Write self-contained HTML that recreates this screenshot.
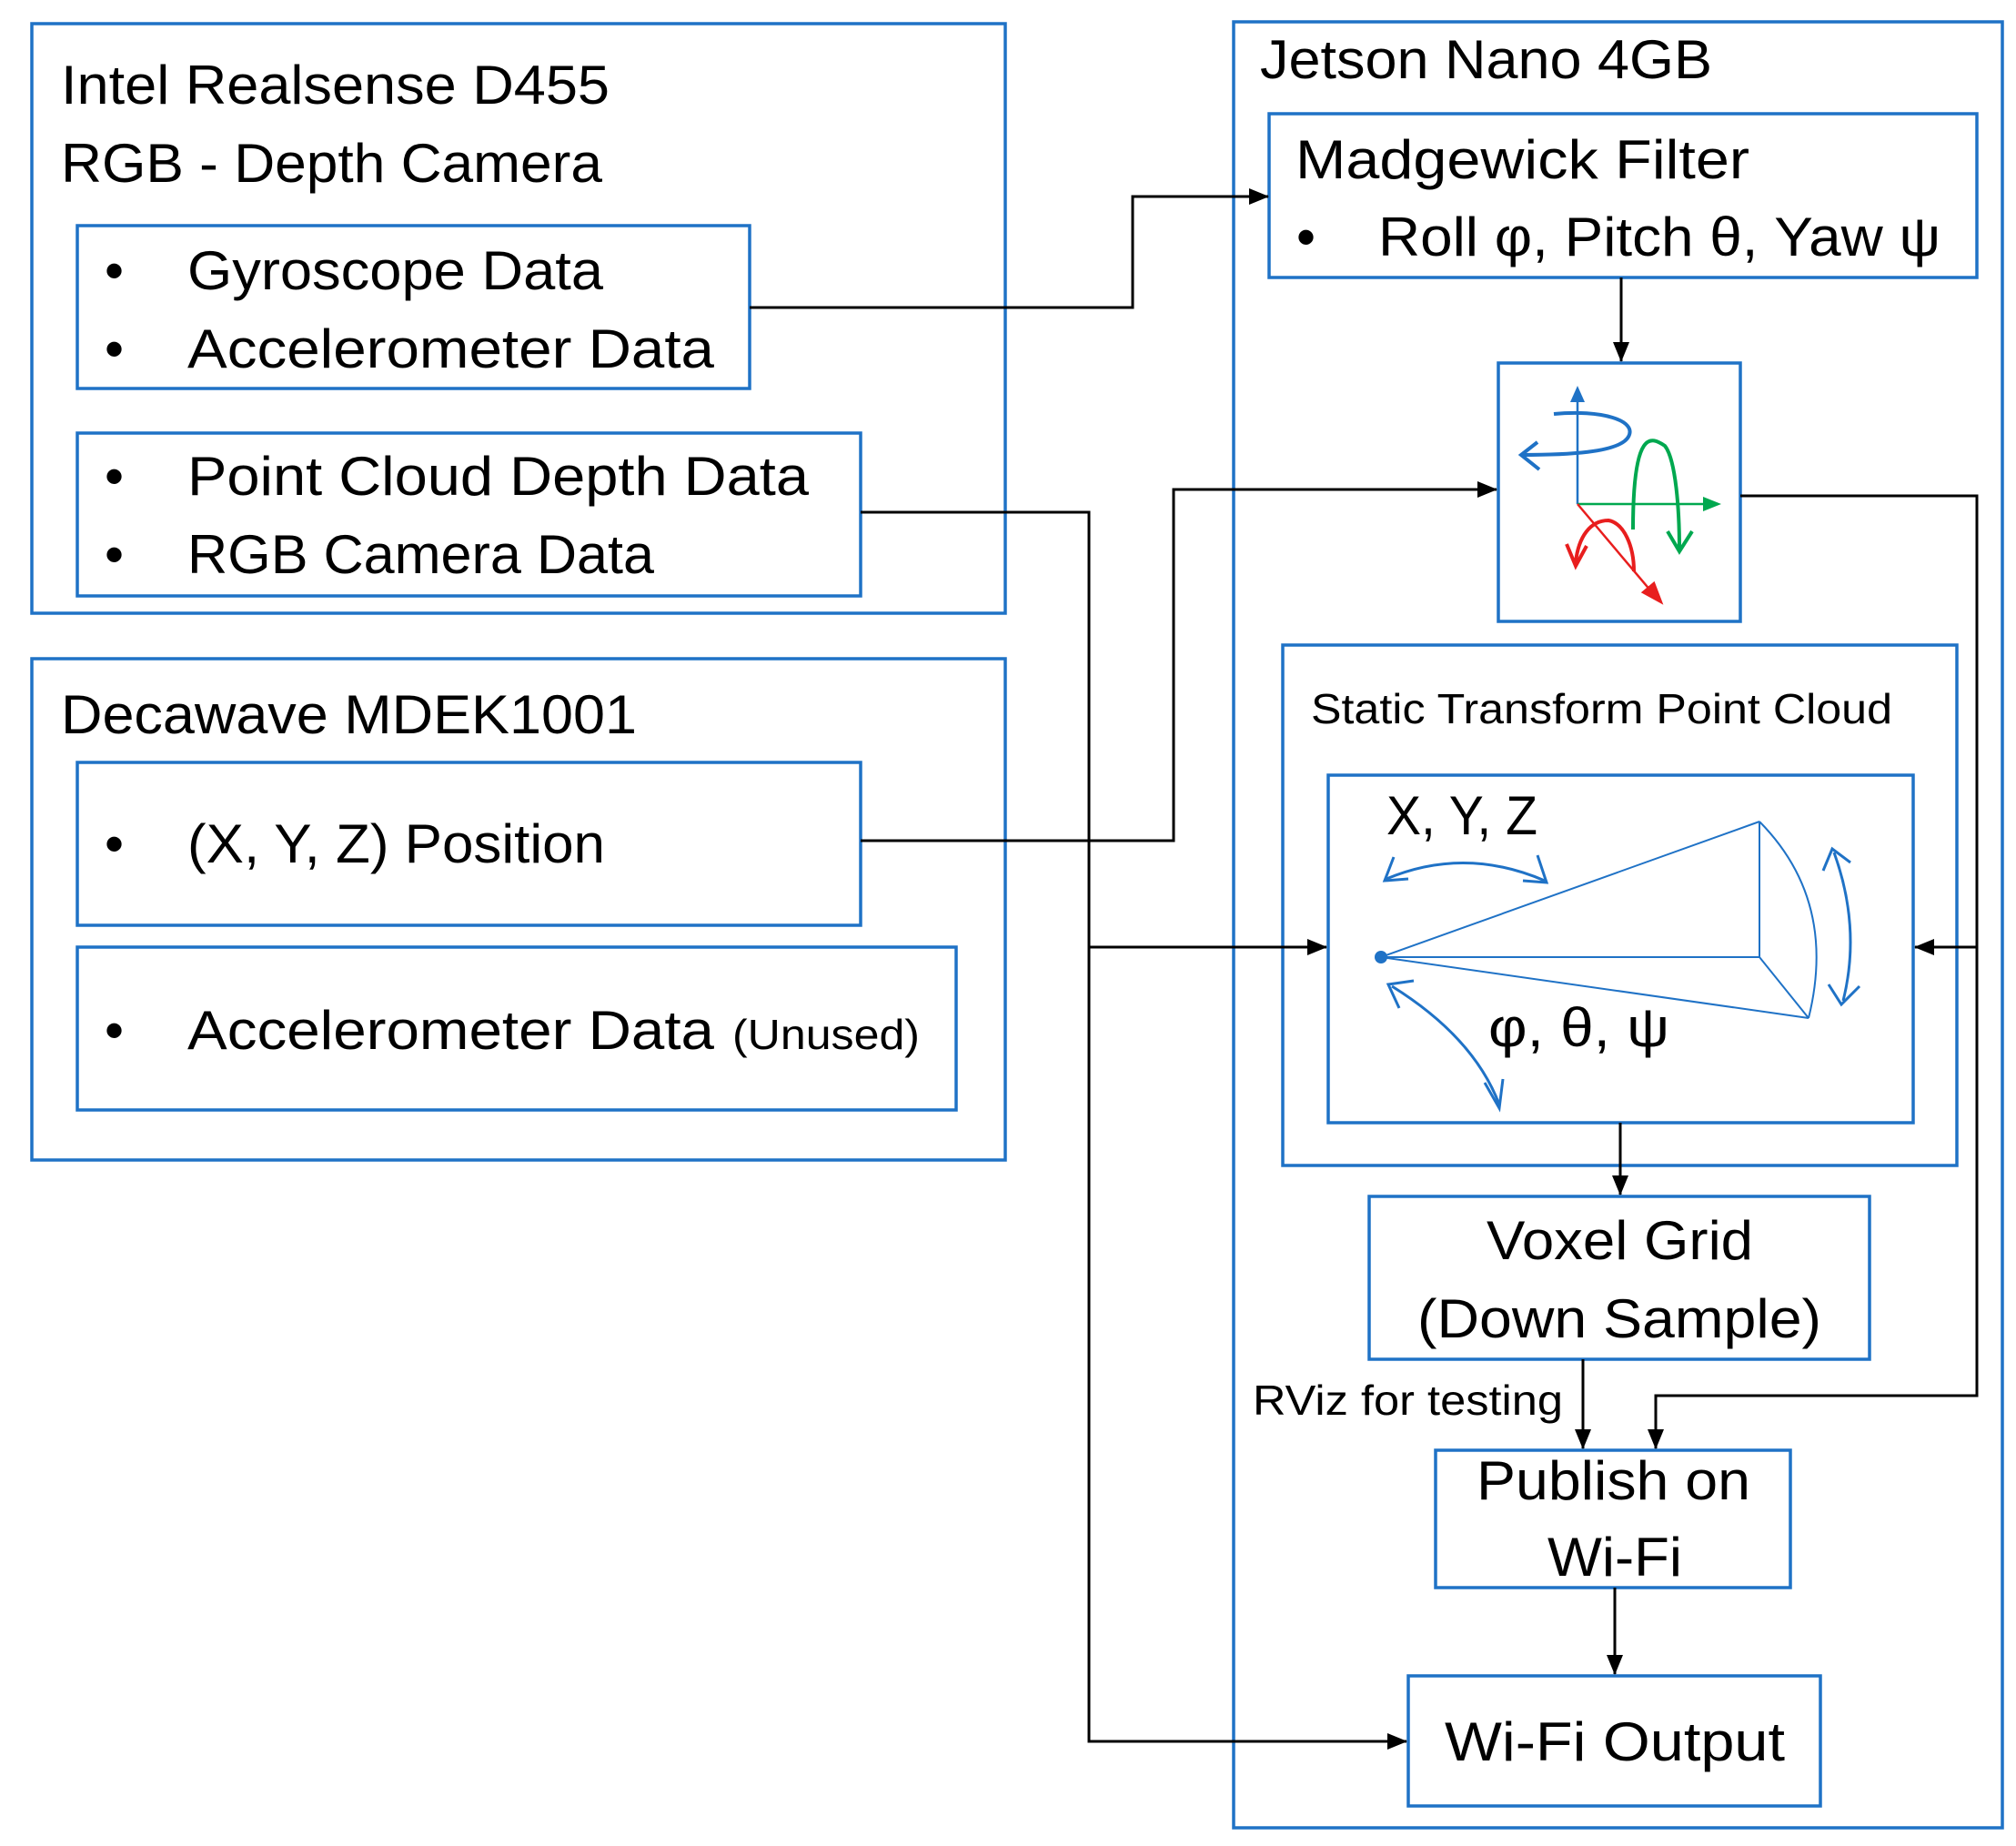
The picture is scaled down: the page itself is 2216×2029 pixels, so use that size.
<!DOCTYPE html>
<html><head><meta charset="utf-8"><style>
html,body{margin:0;padding:0;background:#fff;}
svg{display:block;}
text{font-family:"Liberation Sans",sans-serif;fill:#000;}
</style></head><body>
<svg width="2216" height="2029" viewBox="0 0 2216 2029" xmlns="http://www.w3.org/2000/svg">
<defs>
<marker id="ah" markerWidth="22" markerHeight="18" refX="21" refY="9" orient="auto" markerUnits="userSpaceOnUse" viewBox="0 0 22 18"><path d="M0,0 L22,9 L0,18 z" fill="#000"/></marker>
</defs>
<rect width="2216" height="2029" fill="#fff"/>
<g fill="none" stroke="#1f72c6" stroke-width="3.5">
<rect x="35" y="26" width="1070" height="648"/>
<rect x="85" y="248" width="739" height="179"/>
<rect x="85" y="476" width="861" height="179"/>
<rect x="35" y="724" width="1070" height="551"/>
<rect x="85" y="838" width="861" height="179"/>
<rect x="85" y="1041" width="966" height="179"/>
<rect x="1356" y="24" width="845" height="1985"/>
<rect x="1395" y="125" width="778" height="180"/>
<rect x="1647" y="399" width="266" height="284"/>
<rect x="1410" y="709" width="741" height="572"/>
<rect x="1460" y="852" width="643" height="382"/>
<rect x="1505" y="1315" width="550" height="179"/>
<rect x="1578" y="1594" width="390" height="151"/>
<rect x="1548" y="1842" width="453" height="143"/>
</g>
<g font-size="60">
<text x="67" y="114" textLength="603" lengthAdjust="spacingAndGlyphs">Intel Realsense D455</text>
<text x="67" y="200" textLength="595" lengthAdjust="spacingAndGlyphs">RGB - Depth Camera</text>
<text x="115" y="318">•</text><text x="206" y="318" textLength="457" lengthAdjust="spacingAndGlyphs">Gyroscope Data</text>
<text x="115" y="404">•</text><text x="206" y="404" textLength="579" lengthAdjust="spacingAndGlyphs">Accelerometer Data</text>
<text x="115" y="544">•</text><text x="206" y="544" textLength="683" lengthAdjust="spacingAndGlyphs">Point Cloud Depth Data</text>
<text x="115" y="630">•</text><text x="206" y="630" textLength="513" lengthAdjust="spacingAndGlyphs">RGB Camera Data</text>
<text x="67" y="806" textLength="633" lengthAdjust="spacingAndGlyphs">Decawave MDEK1001</text>
<text x="115" y="948">•</text><text x="206" y="948" textLength="459" lengthAdjust="spacingAndGlyphs">(X, Y, Z) Position</text>
<text x="115" y="1153">•</text><text x="206" y="1153" textLength="579" lengthAdjust="spacingAndGlyphs">Accelerometer Data</text>
<text x="805" y="1153" font-size="46" textLength="206" lengthAdjust="spacingAndGlyphs">(Unused)</text>
<text x="1385" y="86" textLength="497" lengthAdjust="spacingAndGlyphs">Jetson Nano 4GB</text>
<text x="1424" y="196" textLength="499" lengthAdjust="spacingAndGlyphs">Madgewick Filter</text>
<text x="1425" y="281">•</text><text x="1515" y="281" textLength="618" lengthAdjust="spacingAndGlyphs">Roll φ, Pitch θ, Yaw ψ</text>
<text x="1441" y="795" font-size="46" textLength="639" lengthAdjust="spacingAndGlyphs">Static Transform Point Cloud</text>
<text x="1524" y="917" textLength="166" lengthAdjust="spacingAndGlyphs">X, Y, Z</text>
<text x="1636" y="1150" textLength="199" lengthAdjust="spacingAndGlyphs">φ, θ, ψ</text>
<text x="1634" y="1384" textLength="293" lengthAdjust="spacingAndGlyphs">Voxel Grid</text>
<text x="1558" y="1470" textLength="444" lengthAdjust="spacingAndGlyphs">(Down Sample)</text>
<text x="1377" y="1555" font-size="46" textLength="341" lengthAdjust="spacingAndGlyphs">RViz for testing</text>
<text x="1623" y="1648" textLength="301" lengthAdjust="spacingAndGlyphs">Publish on</text>
<text x="1701" y="1732" textLength="148" lengthAdjust="spacingAndGlyphs">Wi-Fi</text>
<text x="1588" y="1935" textLength="374" lengthAdjust="spacingAndGlyphs">Wi-Fi Output</text>
</g>
<g fill="none" stroke="#000" stroke-width="3">
<polyline points="824,338 1245,338 1245,216 1394,216" marker-end="url(#ah)"/>
<polyline points="946,563 1197,563 1197,1914 1546,1914" marker-end="url(#ah)"/>
<polyline points="1197,1041 1458,1041" marker-end="url(#ah)"/>
<polyline points="946,924 1290,924 1290,538 1645,538" marker-end="url(#ah)"/>
<polyline points="1782,305 1782,397" marker-end="url(#ah)"/>
<polyline points="1913,545 2173,545 2173,1534 1820,1534 1820,1592" marker-end="url(#ah)"/>
<polyline points="2173,1041 2105,1041" marker-end="url(#ah)"/>
<polyline points="1781,1234 1781,1313" marker-end="url(#ah)"/>
<polyline points="1740,1494 1740,1592" marker-end="url(#ah)"/>
<polyline points="1775,1745 1775,1840" marker-end="url(#ah)"/>
</g>
<!-- rotation icon -->
<g fill="none" stroke-width="2.5">
<line x1="1734" y1="554" x2="1734" y2="440" stroke="#1f72c6"/>
<path d="M1734,424 L1726,442 L1742,442 z" fill="#1f72c6" stroke="none"/>
<path d="M1708,455 C1760,450 1800,462 1790,480 C1780,498 1720,500 1672,500" stroke="#1f72c6" stroke-width="4"/>
<path d="M1690,486 L1672,500 L1692,516" stroke="#1f72c6" stroke-width="4"/>
<line x1="1734" y1="554" x2="1875" y2="554" stroke="#00a84f"/>
<path d="M1892,554 L1872,546 L1872,562 z" fill="#00a84f" stroke="none"/>
<path d="M1795,582 C1795,470 1815,480 1830,490 C1842,505 1846,560 1846,604" stroke="#00a84f" stroke-width="4"/>
<path d="M1833,584 L1846,606 L1860,584" stroke="#00a84f" stroke-width="4"/>
<line x1="1734" y1="554" x2="1815" y2="650" stroke="#e81e1e"/>
<path d="M1826,662 L1818,641 L1806,651 z" fill="#e81e1e" stroke="#e81e1e"/>
<path d="M1796,628 C1796,600 1785,575 1768,572 C1748,572 1735,590 1732,618" stroke="#e81e1e" stroke-width="4"/>
<path d="M1722,598 L1732,622 L1744,600" stroke="#e81e1e" stroke-width="4"/>
</g>
<!-- cone -->
<g fill="none" stroke="#1f72c6" stroke-width="2">
<line x1="1518" y1="1052" x2="1934" y2="903"/>
<line x1="1518" y1="1052" x2="1934" y2="1052"/>
<line x1="1518" y1="1052" x2="1988" y2="1119"/>
<line x1="1934" y1="903" x2="1934" y2="1052"/>
<line x1="1934" y1="1052" x2="1988" y2="1119"/>
<path d="M1934,903 Q2020,990 1988,1119"/>
<g stroke-width="3">
<path d="M1524,966 Q1610,930 1698,968"/>
<path d="M1532,942 L1522,968 L1548,966"/>
<path d="M1690,940 L1700,970 L1674,968"/>
<path d="M2016,937 Q2046,1020 2026,1100"/>
<path d="M2004,957 L2014,933 L2034,948"/>
<path d="M2010,1082 L2024,1104 L2044,1084"/>
<path d="M1530,1084 Q1620,1140 1648,1214"/>
<path d="M1538,1108 L1526,1082 L1554,1078"/>
<path d="M1632,1190 L1648,1218 L1652,1186"/>
</g>
</g>
<circle cx="1518" cy="1052" r="7" fill="#1f72c6"/>
</svg>
</body></html>
